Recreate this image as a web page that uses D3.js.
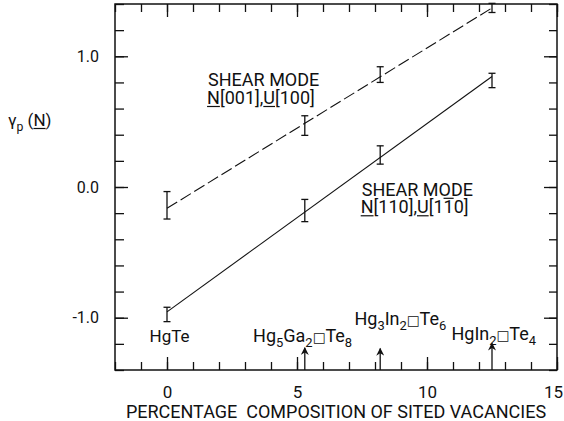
<!DOCTYPE html>
<html>
<head>
<meta charset="utf-8">
<script src="https://cdn.jsdelivr.net/npm/d3@7/dist/d3.min.js"></script>
<style>
  body { margin: 0; background: #fff; }
  svg { display: block; }
</style>
</head>
<body>
<div id="chart"></div>
<script>
// gamma_p(N) against % of sited vacancies, two shear modes, with error bars
// and a straight fitted line through each set.

const compositions = [0, 5.3, 8.2, 12.5];

const gammaN001 = [-0.14, 0.47, 0.86, 1.37];
const errN001   = [0.105, 0.075, 0.06, 0.035];

const gammaN110 = [-0.975, -0.18, 0.245, 0.815];
const errN110   = [0.055, 0.085, 0.07, 0.055];

// fitted lines, ends only
const fitX    = [0, 12.5];
const fitN001 = [-0.163, 1.37];
const fitN110 = [-0.955, 0.845];

const xTickValues = [0, 5, 10, 15];
const yTickValues = [-1.0, 0.0, 1.0];
const yTickLabels = ["-1.0", "0.0", "1.0"];

// compound markers along the x axis (arrow x, arrow tip y)
const compoundX    = [5.3, 8.2, 12.5];
const compoundTipY = [-1.23, -1.235, -1.195];

const FONT = "Roboto, 'DejaVu Sans', sans-serif";

const width  = 564;
const height = 421;
const margin = { top: 4, right: 7, bottom: 51, left: 115 };

const x = d3.scaleLinear()
  .domain([-2, 15])
  .range([margin.left, width - margin.right]);

const y = d3.scaleLinear()
  .domain([-1.4, 1.4])
  .range([height - margin.bottom, margin.top]);

const svg = d3.select("#chart")
  .append("svg")
  .attr("width", width)
  .attr("height", height)
  .style("font-family", FONT);

svg.append("rect")
  .attr("width", width)
  .attr("height", height)
  .attr("fill", "#fff");

// ── ticks, all pointing into the box ──
const minorX = d3.range(-2, 16);
const minorY = d3.range(-7, 8).map(i => i * 0.2);

function tickGroup(axis, translate) {
  svg.append("g")
    .attr("transform", translate)
    .call(axis)
    .call(g => g.select(".domain").remove())
    .call(g => g.selectAll(".tick line").attr("stroke", "#111").attr("stroke-width", 1.3));
}

const bottomY = y(-1.4), topY = y(1.4), leftX = x(-2), rightX = x(15);

tickGroup(d3.axisBottom(x).tickValues(minorX).tickSize(-8).tickFormat(""), `translate(0,${bottomY})`);
tickGroup(d3.axisBottom(x).tickValues(xTickValues).tickSize(-13).tickFormat(""), `translate(0,${bottomY})`);
tickGroup(d3.axisTop(x).tickValues(minorX).tickSize(-8).tickFormat(""), `translate(0,${topY})`);
tickGroup(d3.axisTop(x).tickValues(xTickValues).tickSize(-13).tickFormat(""), `translate(0,${topY})`);
tickGroup(d3.axisLeft(y).tickValues(minorY).tickSize(-9).tickFormat(""), `translate(${leftX},0)`);
tickGroup(d3.axisLeft(y).tickValues(yTickValues).tickSize(-13).tickFormat(""), `translate(${leftX},0)`);
tickGroup(d3.axisRight(y).tickValues(minorY).tickSize(-8).tickFormat(""), `translate(${rightX},0)`);
tickGroup(d3.axisRight(y).tickValues(yTickValues).tickSize(-13).tickFormat(""), `translate(${rightX},0)`);

// frame
svg.append("rect")
  .attr("x", leftX)
  .attr("y", topY)
  .attr("width", rightX - leftX)
  .attr("height", bottomY - topY)
  .attr("fill", "none")
  .attr("stroke", "#111")
  .attr("stroke-width", 1.5);

// tick labels
svg.append("g")
  .attr("transform", `translate(0,${bottomY})`)
  .call(d3.axisBottom(x).tickValues(xTickValues).tickSize(0).tickPadding(16))
  .call(g => g.select(".domain").remove())
  .call(g => g.selectAll(".tick text")
    .attr("font-family", FONT)
    .attr("font-size", "17px")
    .attr("fill", "#111")
    .attr("dx", d => d === 15 ? -4 : 0));

svg.append("g")
  .attr("transform", `translate(${leftX},0)`)
  .call(d3.axisLeft(y).tickValues(yTickValues).tickSize(0).tickPadding(16)
    .tickFormat((d, i) => yTickLabels[i]))
  .call(g => g.select(".domain").remove())
  .call(g => g.selectAll(".tick text")
    .attr("font-family", FONT)
    .attr("font-size", "16px")
    .attr("fill", "#111"));

// axis titles
svg.append("text")
  .attr("x", (leftX + rightX) / 2)
  .attr("y", 418)
  .attr("text-anchor", "middle")
  .attr("font-size", "18px")
  .attr("fill", "#111")
  .attr("xml:space", "preserve")
  .text("PERCENTAGE  COMPOSITION OF SITED VACANCIES");

// ── text helpers ──
// parts: [text, kind] where kind is "", "sub", "u" (underline), "o" (overline), "box"
function richText(px, py, parts, size, anchor) {
  const t = svg.append("text")
    .attr("x", px)
    .attr("y", py)
    .attr("font-size", size + "px")
    .attr("fill", "#111")
    .attr("text-anchor", anchor || "start");
  let shifted = false;
  const marks = [];
  parts.forEach(([str, kind]) => {
    const span = t.append("tspan").text(str);
    if (kind === "sub") {
      span.attr("font-size", (size * 0.72) + "px").attr("dy", shifted ? 0 : 5);
      shifted = true;
      return;
    }
    if (shifted) span.attr("dy", -5);
    shifted = false;
    if (kind === "box") span.attr("font-size", (size * 0.75) + "px").attr("font-family", "'DejaVu Sans', sans-serif");
    if (kind === "u" || kind === "o") marks.push([span, kind]);
  });
  // draw under/overlines by hand so they sit where the reference has them
  marks.forEach(([span, kind]) => {
    const node = span.node();
    const start = node.getStartPositionOfChar(0);
    const w = node.getComputedTextLength();
    const ly = kind === "u" ? start.y + 2.5 : start.y - size * 0.72 - 2;
    svg.append("line")
      .attr("x1", start.x)
      .attr("x2", start.x + w)
      .attr("y1", ly)
      .attr("y2", ly)
      .attr("stroke", "#111")
      .attr("stroke-width", 1.2);
  });
  return t;
}

// y title
richText(8, 126, [["γ", ""], ["p", "sub"], [" (", ""], ["N", "u"], [")", ""]], 17);

// ── fitted lines ──
const line = d3.line()
  .x((v, i) => x(fitX[i]))
  .y(v => y(v));

svg.append("path")
  .datum(fitN001)
  .attr("fill", "none")
  .attr("stroke", "#111")
  .attr("stroke-width", 1.1)
  .attr("stroke-dasharray", "12 4")
  .attr("d", line);

svg.append("path")
  .datum(fitN110)
  .attr("fill", "none")
  .attr("stroke", "#111")
  .attr("stroke-width", 1.1)
  .attr("d", line);

// ── error bars ──
function errorBars(values, errs) {
  const g = svg.append("g").attr("stroke", "#111").attr("stroke-width", 1.3);
  values.forEach((v, i) => {
    const cx = x(compositions[i]);
    const lo = y(v - errs[i]);
    const hi = y(v + errs[i]);
    g.append("line").attr("x1", cx).attr("x2", cx).attr("y1", lo).attr("y2", hi);
    g.append("line").attr("x1", cx - 3.5).attr("x2", cx + 3.5).attr("y1", lo).attr("y2", lo);
    g.append("line").attr("x1", cx - 3.5).attr("x2", cx + 3.5).attr("y1", hi).attr("y2", hi);
  });
}
errorBars(gammaN001, errN001);
errorBars(gammaN110, errN110);

// shear mode labels
richText(x(1.58), y(0.773), [["SHEAR MODE", ""]], 18);
richText(x(1.54), y(0.635), [["N", "u"], ["[001],", ""], ["U", "u"], ["[100]", ""]], 18);

richText(x(7.49), y(-0.069), [["SHEAR MODE", ""]], 18);
richText(x(7.45), y(-0.201), [["N", "u"], ["[110],", ""], ["U", "u"], ["[1", ""], ["1", "o"], ["0]", ""]], 18);

// compound labels
richText(x(0.1), y(-1.186), [["HgTe", ""]], 17, "middle");
richText(x(3.31), y(-1.186), [["Hg", ""], ["5", "sub"], ["Ga", ""], ["2", "sub"], ["□", "box"], ["Te", ""], ["8", "sub"]], 18);
richText(x(7.21), y(-1.056), [["Hg", ""], ["3", "sub"], ["In", ""], ["2", "sub"], ["□", "box"], ["Te", ""], ["6", "sub"]], 18);
richText(x(10.94), y(-1.17), [["HgIn", ""], ["2", "sub"], ["□", "box"], ["Te", ""], ["4", "sub"]], 18);

// arrows
svg.append("defs").append("marker")
  .attr("id", "head")
  .attr("viewBox", "0 0 10 10")
  .attr("refX", 9)
  .attr("refY", 5)
  .attr("markerWidth", 9)
  .attr("markerHeight", 8)
  .attr("markerUnits", "userSpaceOnUse")
  .attr("orient", "auto")
  .append("path")
  .attr("d", "M0,0 L10,5 L0,10 L3,5 Z")
  .attr("fill", "#111");

compoundX.forEach((cx, i) => {
  svg.append("line")
    .attr("x1", x(cx))
    .attr("x2", x(cx))
    .attr("y1", bottomY)
    .attr("y2", y(compoundTipY[i]))
    .attr("stroke", "#111")
    .attr("stroke-width", 1.3)
    .attr("marker-end", "url(#head)");
});
</script>
</body>
</html>
